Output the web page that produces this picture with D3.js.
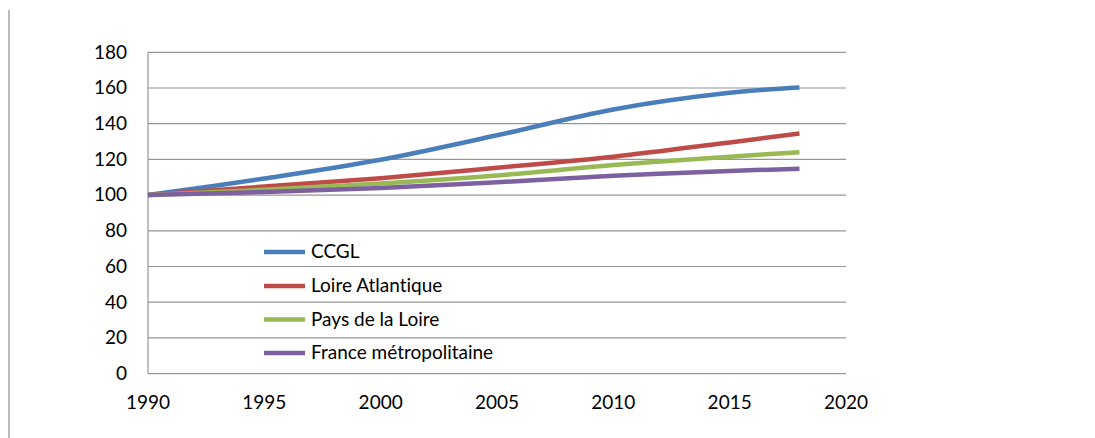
<!DOCTYPE html>
<html>
<head>
<meta charset="utf-8">
<script src="https://cdn.jsdelivr.net/npm/d3@7/dist/d3.min.js"></script>
<style>
  html, body { margin: 0; padding: 0; background: #fff; }
  svg { display: block; }
  text { font-family: "Lato", "Open Sans", sans-serif; fill: #000; font-variant-ligatures: none; }
</style>
</head>
<body>
<svg id="chart" width="1095" height="438"></svg>
<script>
// Population index (base 100 in 1990)
const years = [1990, 1995, 2000, 2005, 2010, 2015, 2018];
const seriesNames = ["CCGL", "Loire Atlantique", "Pays de la Loire", "France métropolitaine"];
const ccgl = [100, 109.3, 119.8, 133.5, 148, 157.3, 160.3];
const loireAtlantique = [100, 104.8, 109.5, 115.3, 121.5, 129.5, 134.5];
const paysDeLaLoire = [100, 103, 106.5, 111, 116.8, 121.5, 124];
const franceMetro = [100, 101.8, 104, 107.2, 110.8, 113.5, 114.8];
const seriesColors = ["#4A7EBB", "#BE4B48", "#98B954", "#7D60A0"];
const yTicks = [0, 20, 40, 60, 80, 100, 120, 140, 160, 180];
const xTicks = [1990, 1995, 2000, 2005, 2010, 2015, 2020];

const allSeries = [ccgl, loireAtlantique, paysDeLaLoire, franceMetro];

const svg = d3.select("#chart");
const plot = { left: 148, right: 846, top: 52.3, bottom: 373.6 };
const fontSize = "19px";

const x = d3.scaleLinear().domain([1990, 2020]).range([plot.left, plot.right]);
const y = d3.scaleLinear().domain([0, 180]).range([plot.bottom, plot.top]);

// outer frame edge on the left
svg.append("line")
  .attr("x1", 9).attr("x2", 9).attr("y1", 10).attr("y2", 438)
  .attr("stroke", "#a6a6a6").attr("stroke-width", 1.5);

// horizontal gridlines
svg.append("g")
  .selectAll("line")
  .data(yTicks)
  .join("line")
  .attr("x1", plot.left).attr("x2", plot.right)
  .attr("y1", d => y(d)).attr("y2", d => y(d))
  .attr("stroke", "#969696").attr("stroke-width", 1.2);

// vertical axis line
svg.append("line")
  .attr("x1", plot.left).attr("x2", plot.left)
  .attr("y1", y(180)).attr("y2", y(0))
  .attr("stroke", "#969696").attr("stroke-width", 1.2);

// y axis labels
svg.append("g")
  .selectAll("text")
  .data(yTicks)
  .join("text")
  .attr("x", 127)
  .attr("y", d => y(d) + 1.5)
  .attr("text-anchor", "end")
  .attr("dominant-baseline", "middle")
  .style("font-size", fontSize)
  .text(d => d);

// x axis labels
svg.append("g")
  .selectAll("text")
  .data(xTicks)
  .join("text")
  .attr("x", d => x(d))
  .attr("y", 404)
  .attr("text-anchor", "middle")
  .attr("dominant-baseline", "middle")
  .style("font-size", fontSize)
  .text(d => d);

// series lines
const line = d3.line()
  .x((d, i) => x(years[i]))
  .y(d => y(d))
  .curve(d3.curveCatmullRom.alpha(0.5));

svg.append("g")
  .selectAll("path")
  .data(allSeries)
  .join("path")
  .attr("d", d => line(d))
  .attr("fill", "none")
  .attr("stroke", (d, i) => seriesColors[i])
  .attr("stroke-width", 4.5);

// legend
const legendY = [252, 286, 319.5, 353];
const legend = svg.append("g")
  .selectAll("g")
  .data(seriesNames)
  .join("g")
  .attr("transform", (d, i) => `translate(264,${legendY[i]})`);

legend.append("line")
  .attr("x1", 0).attr("x2", 41)
  .attr("y1", 0).attr("y2", 0)
  .attr("stroke", (d, i) => seriesColors[i])
  .attr("stroke-width", 4.5);

legend.append("text")
  .attr("x", 47)
  .attr("y", 1.5)
  .attr("dominant-baseline", "middle")
  .style("font-size", fontSize)
  .text(d => d);
</script>
</body>
</html>
